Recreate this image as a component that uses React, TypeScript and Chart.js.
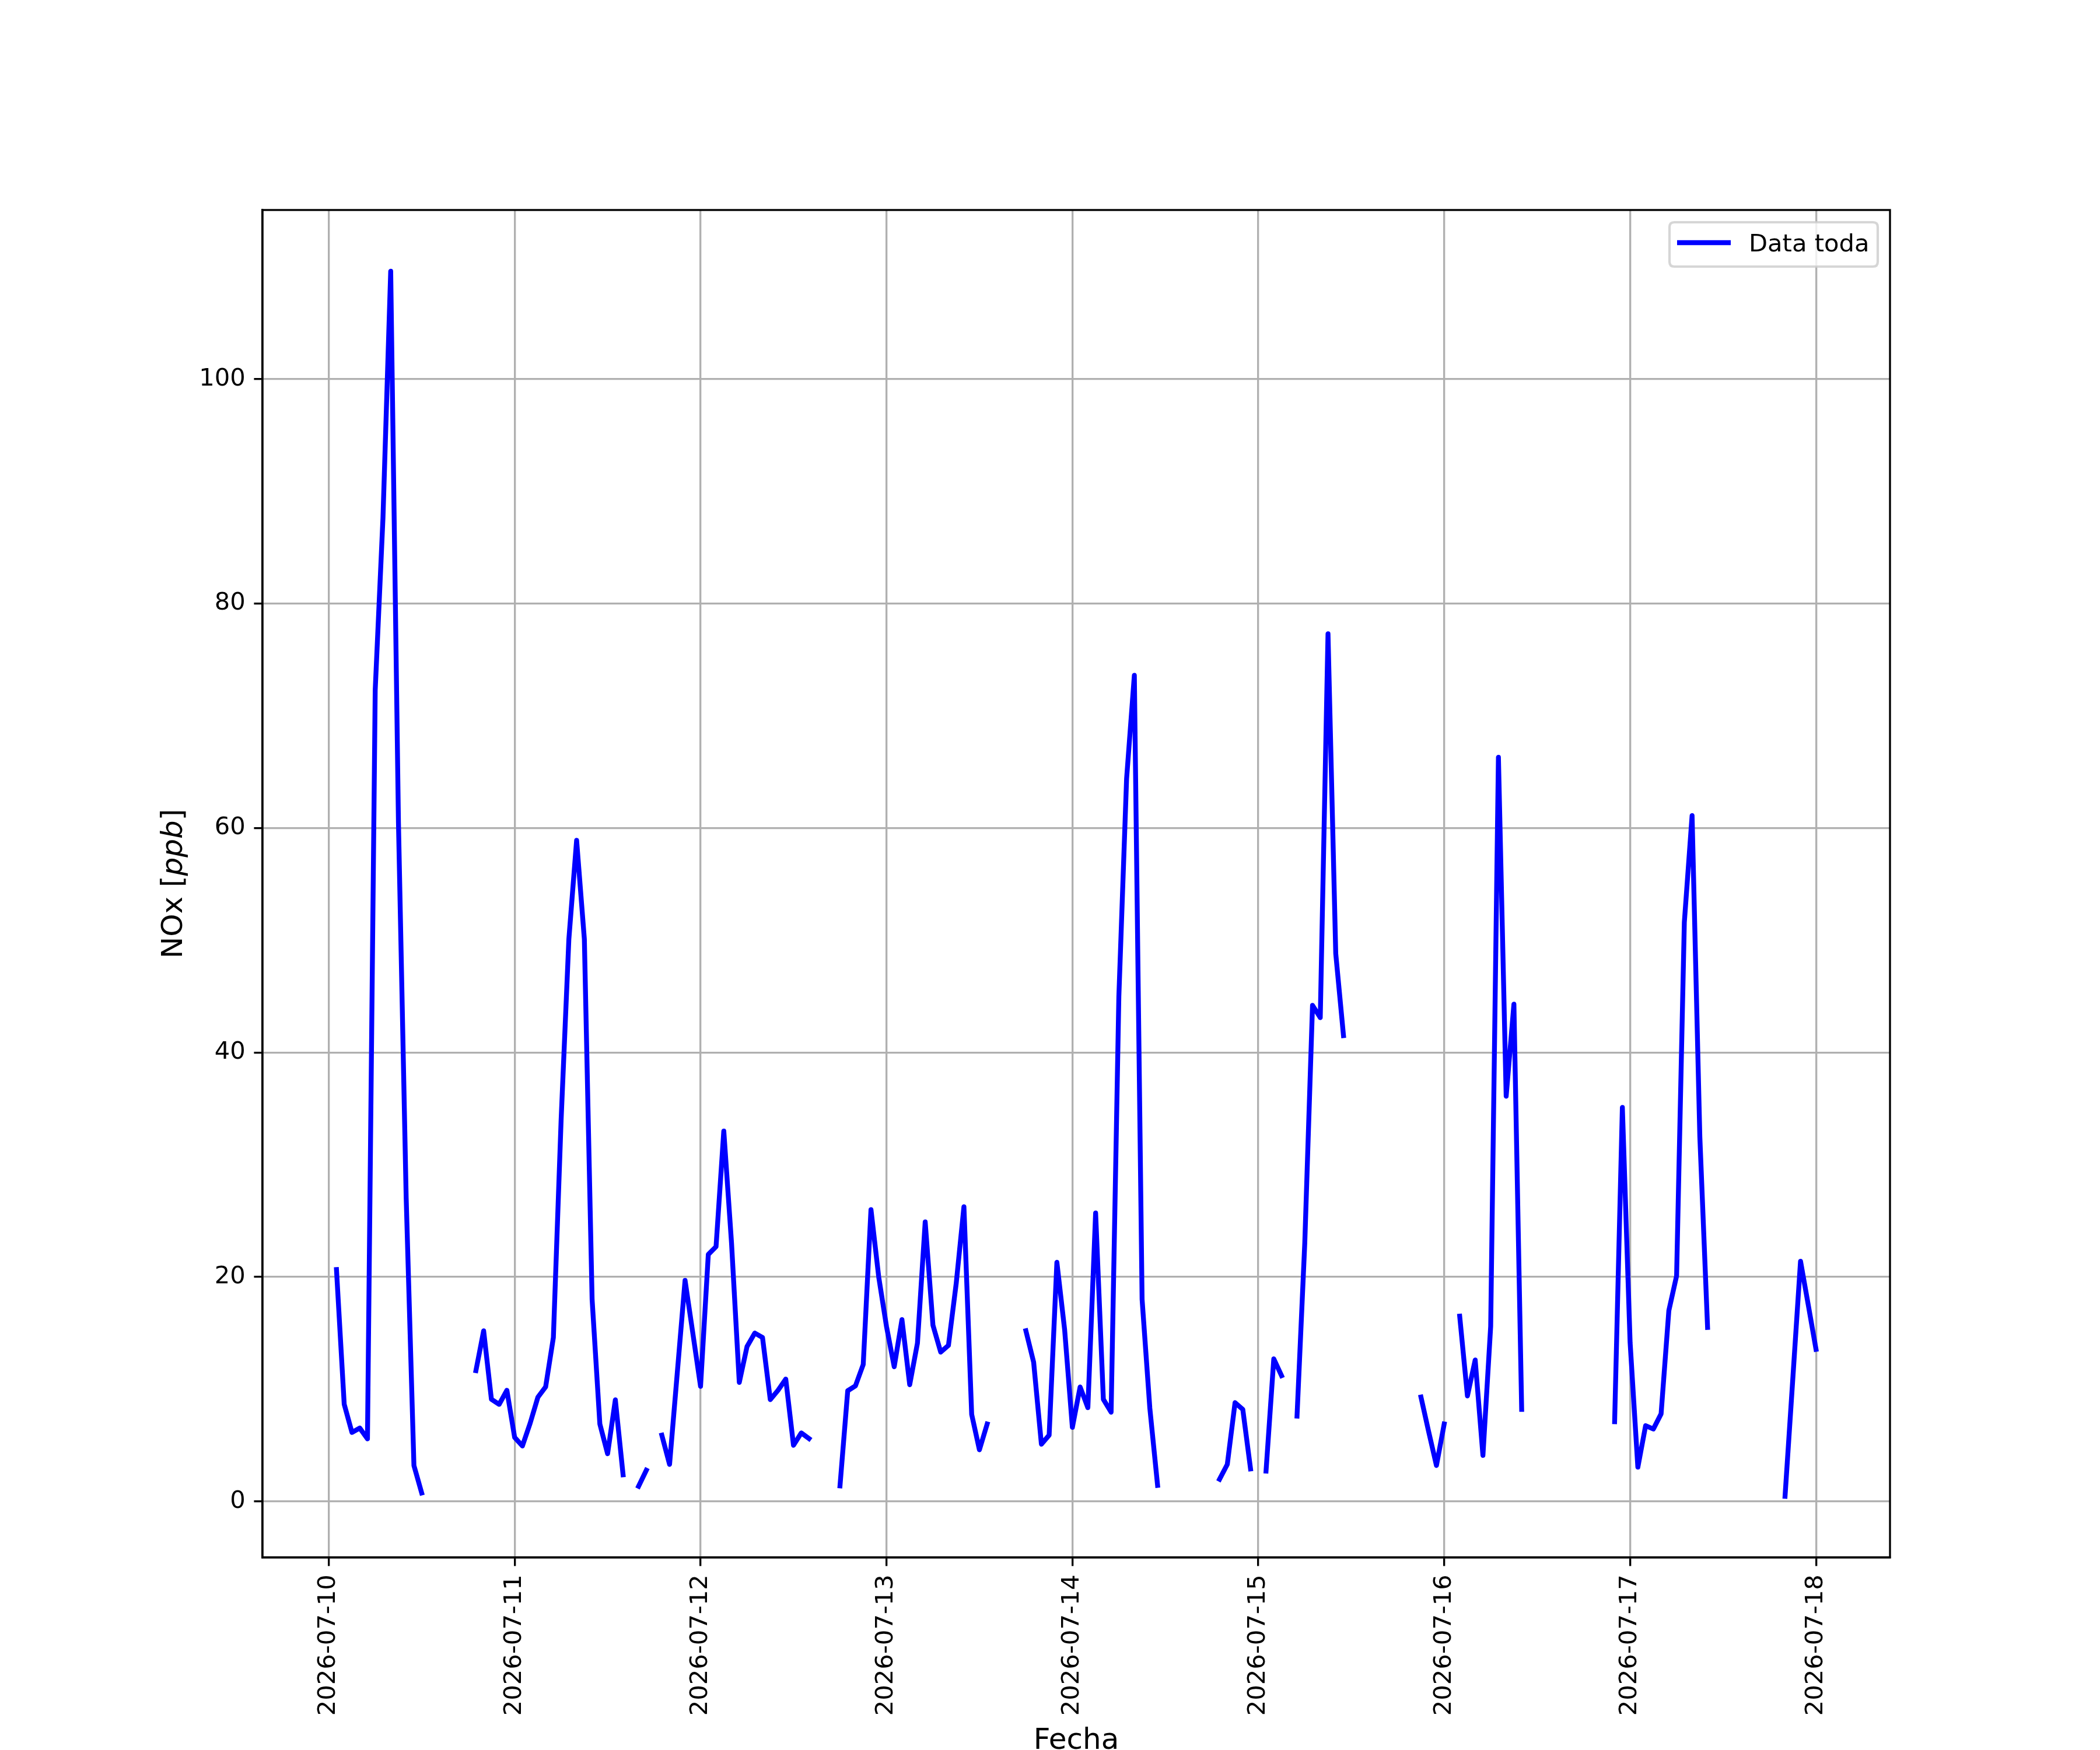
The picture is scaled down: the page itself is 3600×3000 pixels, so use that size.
import React, { useEffect, useRef } from 'react';
import { Chart, registerables } from 'chart.js';

Chart.register(...registerables);

// Tick labels (one per day, at 00:00)
const dayLabels = [
  '2026-07-10', '2026-07-11', '2026-07-12', '2026-07-13', '2026-07-14',
  '2026-07-15', '2026-07-16', '2026-07-17', '2026-07-18',
];

// Hourly NOx values [ppb]; hour 1 = 2026-07-10 01:00 ; null = missing
const day1Values = [20.65, 8.65, 6.15, 6.54, 5.57, 72.3, 87.6, 109.6, 60.5, 27, 3.2, 0.75,
  null, null, null, null, null, null, 11.65, 15.2, 9.1, 8.65, 9.9, 5.7];
const day2Values = [4.94, 6.96, 9.28, 10.2, 14.6, 34, 50.1, 58.9, 50.1, 18.0, 6.9, 4.25, 9.05, 2.37,
  null, 1.35, 2.78, null, 5.9, 3.3, 11.5, 19.7, 15, 10.25];
const day3Values = [22.0, 22.7, 33.0, 23, 10.6, 13.8, 15.0, 14.6, 9.07, 9.9, 10.9, 5.0, 6.1, 5.6,
  null, null, null, 1.38, 9.86, 10.3, 12.2, 26.0, 20.0, 15.6];
const day4Values = [12.0, 16.2, 10.4, 14.1, 24.9, 15.7, 13.3, 13.9, 19.4, 26.25, 7.76, 4.6, 6.9,
  null, null, null, null, 15.2, 12.4, 5.1, 5.9, 21.3, 15.3, 6.6];
const day5Values = [10.2, 8.35, 25.7, 9.1, 7.95, 45.0, 64.4, 73.6, 18.0, 8.3, 1.43,
  null, null, null, null, null, null, null, 1.98, 3.3, 8.8, 8.2, 2.9, null];
const day6Values = [2.7, 12.7, 11.2, null, 7.6, 23, 44.2, 43.1, 77.3, 48.8, 41.5,
  null, null, null, null, null, null, null, null, null, 9.3, 6.2, 3.2, 6.9];
const day7Values = [null, 16.5, 9.4, 12.6, 4.1, 15.6, 66.3, 36.1, 44.3, 8.2,
  null, null, null, null, null, null, null, null, null, null, null, 7.1, 35.1, 14.15];
const day8Values = [3.05, 6.75, 6.45, 7.8, 17.0, 20.1, 51.6, 61.1, 32.5, 15.5,
  null, null, null, null, null, null, null, null, null, 0.46, 10.9, 21.4, 17.5, 13.55];

const yTickValues = [0, 20, 40, 60, 80, 100];
const firstHour = 1;
const seriesLabel = 'Data toda';

const noxValues: (number | null)[] = [
  ...day1Values, ...day2Values, ...day3Values, ...day4Values,
  ...day5Values, ...day6Values, ...day7Values, ...day8Values,
];

const PT = 300 / 72;
const FONT = 'DejaVu Sans';
const TICK_SIZE = 10 * PT;
const LABEL_SIZE = 12 * PT;

export default function App() {
  const ref = useRef<HTMLCanvasElement>(null);

  useEffect(() => {
    document.body.style.margin = '0';
    const canvas = ref.current;
    if (!canvas) return;

    const points = noxValues.map((v, i) => ({ x: firstHour + i, y: v }));
    const finite = noxValues.filter((v) => v !== null) as number[];
    const dMin = Math.min(...finite);
    const dMax = Math.max(...finite);
    const yr = dMax - dMin;
    const xFirst = firstHour;
    const xLast = firstHour + noxValues.length - 1;
    const xr = xLast - xFirst;

    const decor = {
      id: 'mplDecor',
      afterDatasetsDraw(chart: any) {
        const { ctx, chartArea: a } = chart;
        ctx.save();
        ctx.strokeStyle = '#000';
        ctx.lineWidth = 0.8 * PT;
        ctx.strokeRect(a.left, a.top, a.right - a.left, a.bottom - a.top);
        ctx.restore();
      },
      afterDraw(chart: any) {
        const { ctx, chartArea: a } = chart;
        ctx.save();
        // x label
        ctx.fillStyle = '#000';
        ctx.font = `${LABEL_SIZE}px "${FONT}"`;
        ctx.textAlign = 'center';
        ctx.textBaseline = 'alphabetic';
        ctx.fillText('Fecha', (a.left + a.right) / 2, 2998);

        // y label with italic ppb
        const segs = [
          { t: 'NOx [', f: `${LABEL_SIZE}px "${FONT}"` },
          { t: 'ppb', f: `italic ${LABEL_SIZE}px "${FONT}"` },
          { t: ']', f: `${LABEL_SIZE}px "${FONT}"` },
        ];
        let total = 0;
        const widths = segs.map((s) => { ctx.font = s.f; const w = ctx.measureText(s.t).width; total += w; return w; });
        ctx.translate(312, (a.top + a.bottom) / 2);
        ctx.rotate(-Math.PI / 2);
        ctx.textAlign = 'left';
        let xx = -total / 2;
        segs.forEach((s, i) => { ctx.font = s.f; ctx.fillText(s.t, xx, 0); xx += widths[i]; });
        ctx.restore();

        // legend
        ctx.save();
        const bx = 2862, by = 381, bw = 357, bh = 76, r = 8.3;
        ctx.beginPath();
        ctx.moveTo(bx + r, by);
        ctx.lineTo(bx + bw - r, by);
        ctx.quadraticCurveTo(bx + bw, by, bx + bw, by + r);
        ctx.lineTo(bx + bw, by + bh - r);
        ctx.quadraticCurveTo(bx + bw, by + bh, bx + bw - r, by + bh);
        ctx.lineTo(bx + r, by + bh);
        ctx.quadraticCurveTo(bx, by + bh, bx, by + bh - r);
        ctx.lineTo(bx, by + r);
        ctx.quadraticCurveTo(bx, by, bx + r, by);
        ctx.closePath();
        ctx.fillStyle = 'rgba(255,255,255,0.8)';
        ctx.fill();
        ctx.strokeStyle = 'rgba(204,204,204,0.8)';
        ctx.lineWidth = 1 * PT;
        ctx.stroke();
        ctx.beginPath();
        ctx.moveTo(2875, 416);
        ctx.lineTo(2967, 416);
        ctx.strokeStyle = '#0000ff';
        ctx.lineWidth = 2 * PT;
        ctx.lineCap = 'butt';
        ctx.stroke();
        ctx.fillStyle = '#000';
        ctx.font = `${TICK_SIZE}px "${FONT}"`;
        ctx.textAlign = 'left';
        ctx.textBaseline = 'alphabetic';
        ctx.fillText(seriesLabel, 2998, 431);
        ctx.restore();
      },
    };

    const chart = new Chart(canvas, {
      type: 'line',
      data: {
        datasets: [{
          label: seriesLabel,
          data: points as any,
          borderColor: '#0000ff',
          backgroundColor: '#0000ff',
          borderWidth: 2 * PT,
          pointRadius: 0,
          pointHoverRadius: 0,
          tension: 0,
          spanGaps: false,
          borderJoinStyle: 'round',
          borderCapStyle: 'square',
          fill: false,
        }],
      },
      options: {
        animation: false,
        responsive: false,
        devicePixelRatio: 1,
        events: [],
        layout: { padding: { left: 0, top: 360, right: 360, bottom: 0 } },
        plugins: { legend: { display: false }, tooltip: { enabled: false }, title: { display: false } },
        scales: {
          x: {
            type: 'linear',
            min: xFirst - 0.05 * xr,
            max: xLast + 0.05 * xr,
            afterFit: (s: any) => { s.height = 330; },
            afterBuildTicks: (s: any) => { s.ticks = dayLabels.map((_, i) => ({ value: i * 24 })); },
            grid: {
              color: '#b0b0b0', lineWidth: 0.8 * PT,
              drawTicks: true, tickLength: 3.5 * PT, tickColor: '#000', tickWidth: 0.8 * PT,
            },
            border: { display: true, color: '#000', width: 0.8 * PT },
            ticks: {
              autoSkip: false, minRotation: 90, maxRotation: 90, padding: 3.5 * PT,
              color: '#000', font: { family: FONT, size: TICK_SIZE },
              callback: (v: any) => dayLabels[Math.round(Number(v) / 24)] ?? '',
            },
          },
          y: {
            type: 'linear',
            min: dMin - 0.05 * yr,
            max: dMax + 0.05 * yr,
            afterFit: (s: any) => { s.width = 450; },
            afterBuildTicks: (s: any) => { s.ticks = yTickValues.map((v) => ({ value: v })); },
            grid: {
              color: '#b0b0b0', lineWidth: 0.8 * PT,
              drawTicks: true, tickLength: 3.5 * PT, tickColor: '#000', tickWidth: 0.8 * PT,
            },
            border: { display: true, color: '#000', width: 0.8 * PT },
            ticks: {
              padding: 3.5 * PT, color: '#000', font: { family: FONT, size: TICK_SIZE },
              callback: (v: any) => String(v),
            },
          },
        },
      },
      plugins: [decor],
    } as any);

    return () => { chart.destroy(); };
  }, []);

  return <canvas ref={ref} width={3600} height={3000} style={{ display: 'block', width: '3600px', height: '3000px' }} />;
}
